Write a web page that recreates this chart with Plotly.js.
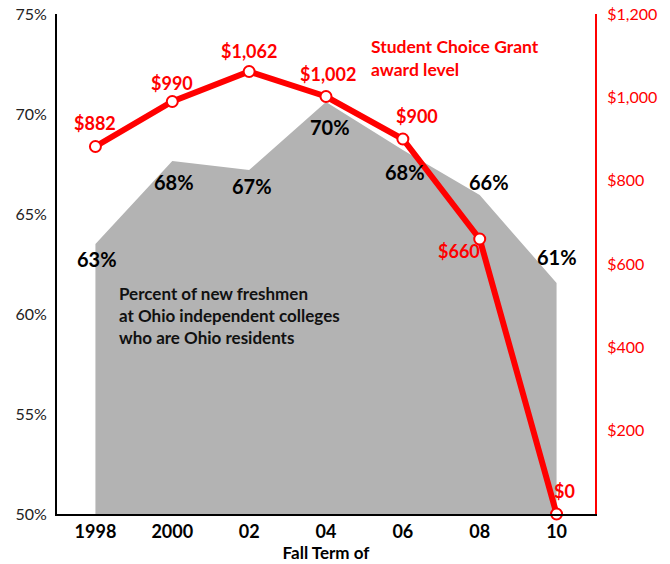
<!DOCTYPE html>
<html><head><meta charset="utf-8">
<script src="https://cdn.plot.ly/plotly-3.0.1.min.js"></script>
<style>body{margin:0;background:#fff}#c{width:670px;height:564px}</style>
</head><body><div id="c"></div>
<script>
const categories = ["1998","2000","02","04","06","08","10"];
const pctResidents = [63.5, 67.65, 67.2, 70.6, 68.2, 65.95, 61.55];
const pctLabels = ["63%","68%","67%","70%","68%","66%","61%"];
const grantAward = [882, 990, 1062, 1002, 900, 660, 0];
const grantLabels = ["$882","$990","$1,062","$1,002","$900","$660","$0"];
const leftTicks = [50,55,60,65,70,75];
const rightTicks = [200,400,600,800,1000,1200];

const pctOffsets = [[2,-15],[2,-21],[3,-16],[4,-25],[2,-22],[9,13],[0,26]];
const grantOffsets = [[0,24],[0,19],[0,21],[2,23],[14,23],[-21,-12],[8,23]];

const FONT = "Lato, 'Open Sans', sans-serif";
const idx = categories.map((c,i)=>i);

const traces = [
  {x: idx, y: pctResidents, type:'scatter', mode:'lines', fill:'tozeroy',
   fillcolor:'#b3b3b3', line:{width:0, color:'#b3b3b3'}, hoverinfo:'skip', xaxis:'x', yaxis:'y'},
  {x: idx, y: grantAward, type:'scatter', mode:'lines+markers', yaxis:'y2', cliponaxis:false,
   line:{color:'#ff0000', width:6},
   marker:{size:11, color:'#ffffff', line:{color:'#ff0000', width:2}}}
];

const annotations = [];
pctLabels.forEach((t,i)=>annotations.push({x:i, y:pctResidents[i], xref:'x', yref:'y', text:'<b>'+t+'</b>',
  showarrow:false, xshift:pctOffsets[i][0], yshift:pctOffsets[i][1], yanchor:'middle',
  font:{family:FONT, size:20, color:'#000'}}));
grantLabels.forEach((t,i)=>annotations.push({x:i, y:grantAward[i], xref:'x', yref:'y2', text:'<b>'+t+'</b>',
  showarrow:false, xshift:grantOffsets[i][0], yshift:grantOffsets[i][1], yanchor:'middle',
  font:{family:FONT, size:18, color:'#ff0000'}}));
annotations.push({xref:'paper', yref:'paper', x:0.111, y:0.466, xanchor:'left', yanchor:'top', align:'left', showarrow:false,
  text:'<b>Percent of new freshmen<br>at Ohio independent colleges<br>who are Ohio residents</b>',
  font:{family:FONT, size:17, color:'#111'}});
annotations.push({xref:'paper', yref:'paper', x:0.58, y:0.96, xanchor:'left', yanchor:'top', align:'left', showarrow:false,
  text:'<b>Student Choice Grant<br>award level</b>',
  font:{family:FONT, size:17.5, color:'#ff0000'}});

const layout = {
  width:670, height:564, margin:{l:57, r:75, t:14, b:50},
  paper_bgcolor:'#fff', plot_bgcolor:'rgba(0,0,0,0)', showlegend:false,
  font:{family:FONT},
  xaxis:{range:[-0.5,6.5], tickvals:idx, ticktext:categories.map(c=>'<b>'+c+'</b>'),
    showgrid:false, zeroline:false, showline:true, linecolor:'#000', linewidth:2,
    ticks:'', ticklen:0,
    tickfont:{family:FONT, size:18, color:'#000'},
    title:{text:'<b>Fall Term of</b>', font:{family:FONT, size:17, color:'#000'}, standoff:6}},
  yaxis:{range:[50,75], tickvals:leftTicks, ticktext:leftTicks.map(v=>v+'%'),
    showgrid:false, zeroline:false, showline:true, linecolor:'#000', linewidth:2,
    ticks:'outside', ticklen:5, tickcolor:'rgba(0,0,0,0)',
    tickfont:{family:FONT, size:16, color:'#222'}},
  yaxis2:{range:[0,1200], overlaying:'y', side:'right', tickvals:rightTicks,
    ticktext:rightTicks.map(v=>'$'+v.toLocaleString('en-US')),
    showgrid:false, zeroline:false, showline:true, linecolor:'#ff0000', linewidth:2,
    ticks:'outside', ticklen:7, tickcolor:'rgba(0,0,0,0)',
    tickfont:{family:FONT, size:16, color:'#ff0000'}},
  annotations: annotations
};
Plotly.newPlot('c', traces, layout, {displayModeBar:false, staticPlot:true});
</script></body></html>
